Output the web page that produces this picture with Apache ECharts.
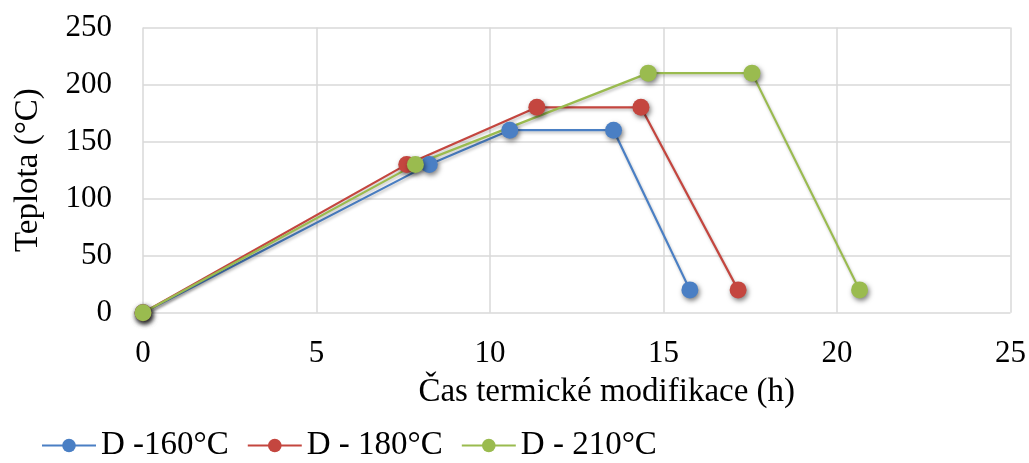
<!DOCTYPE html>
<html>
<head>
<meta charset="utf-8">
<script src="https://cdn.jsdelivr.net/npm/echarts@6/dist/echarts.min.js"></script>
<style>
  html, body { margin: 0; padding: 0; background: #fff; }
  #chart { width: 1029px; height: 463px; }
</style>
</head>
<body>
<div id="chart"></div>
<script>
// Thermal modification schedules: time (h) vs temperature (°C)
const seriesNames = ['D -160°C', 'D - 180°C', 'D - 210°C'];
const time160 = [0, 8.25, 10.57, 13.56, 15.76];
const temp160 = [0, 130, 160, 160, 20];
const time180 = [0, 7.6, 11.35, 14.35, 17.15];
const temp180 = [0, 130, 180, 180, 20];
const time210 = [0, 7.85, 14.56, 17.55, 20.65];
const temp210 = [0, 130, 210, 210, 20];
const colors = ['#4a7fc4', '#c4463f', '#9abb4f'];

const pairs = (xs, ys) => xs.map((x, i) => [x, ys[i]]);
const serif = '"Liberation Serif", "Times New Roman", serif';

function lineSeries(name, data, color) {
  return {
    name: name,
    type: 'line',
    data: data,
    symbol: 'circle',
    symbolSize: 17,
    itemStyle: {
      color: color,
      shadowBlur: 5,
      shadowColor: 'rgba(0,0,0,0.5)',
      shadowOffsetX: 1.5,
      shadowOffsetY: 2.5
    },
    lineStyle: {
      color: color,
      width: 2.2,
      shadowBlur: 3,
      shadowColor: 'rgba(0,0,0,0.25)',
      shadowOffsetX: 1,
      shadowOffsetY: 2
    },
    animation: false
  };
}

const chart = echarts.init(document.getElementById('chart'));
chart.setOption({
  backgroundColor: '#fff',
  color: colors,
  grid: { left: 143, right: 17, top: 27.5, bottom: 150.3, containLabel: false },
  xAxis: {
    type: 'value',
    min: 0, max: 25, interval: 5,
    name: 'Čas termické modifikace (h)',
    nameLocation: 'middle',
    nameGap: 63,
    nameTextStyle: { fontFamily: serif, fontSize: 33, color: '#000', padding: [0, 0, 0, 60] },
    axisLine: { show: false },
    axisTick: { show: false },
    axisLabel: { fontFamily: serif, fontSize: 31, color: '#000', margin: 26 },
    splitLine: { show: true, lineStyle: { color: '#d9d9d9', width: 1.5 } }
  },
  yAxis: {
    type: 'value',
    min: 0, max: 250, interval: 50,
    name: 'Teplota (°C)',
    nameLocation: 'middle',
    nameGap: 98,
    nameTextStyle: { fontFamily: serif, fontSize: 33, color: '#000' },
    axisLine: { show: false },
    axisTick: { show: false },
    axisLabel: { fontFamily: serif, fontSize: 31, color: '#000', margin: 31 },
    splitLine: { show: true, lineStyle: { color: '#d9d9d9', width: 1.5 } }
  },
  legend: {
    left: 36,
    top: 424,
    itemWidth: 54,
    itemHeight: 17,
    itemGap: 18,
    textStyle: { fontFamily: serif, fontSize: 33, color: '#000' },
    data: seriesNames
  },
  series: [
    lineSeries(seriesNames[0], pairs(time160, temp160), colors[0]),
    lineSeries(seriesNames[1], pairs(time180, temp180), colors[1]),
    lineSeries(seriesNames[2], pairs(time210, temp210), colors[2])
  ]
});
</script>
</body>
</html>
